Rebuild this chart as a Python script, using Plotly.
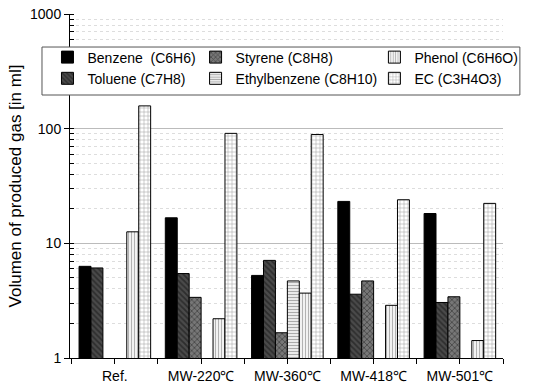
import plotly.graph_objects as go

categories = ["Ref.", "MW-220℃", "MW-360℃", "MW-418℃", "MW-501℃"]
benzene = [6.3, 16.7, 5.25, 23.2, 18.2]
toluene = [6.1, 5.45, 7.1, 3.6, 3.05]
styrene = [None, 3.38, 1.66, 4.7, 3.42]
ethylbenzene = [None, None, 4.7, None, None]
phenol = [12.6, 2.2, 3.68, 2.88, 1.42]
ec = [158, 91, 89, 24, 22.3]

series = [
    ("Benzene  (C6H6)", benzene, dict(color="black"), "legend"),
    ("Toluene (C7H8)", toluene, dict(color="#444", pattern=dict(shape="\\", bgcolor="#4a4a4a", fgcolor="#111", size=4, solidity=0.45)), "legend"),
    ("Styrene (C8H8)", styrene, dict(color="#666", pattern=dict(shape="x", bgcolor="#777", fgcolor="#1a1a1a", size=4, solidity=0.4)), "legend2"),
    ("Ethylbenzene (C8H10)", ethylbenzene, dict(color="white", pattern=dict(shape="-", bgcolor="white", fgcolor="#555", size=3, solidity=0.5)), "legend2"),
    ("Phenol (C6H6O)", phenol, dict(color="white", pattern=dict(shape="|", bgcolor="white", fgcolor="#666", size=3, solidity=0.45)), "legend3"),
    ("EC (C3H4O3)", ec, dict(color="white", pattern=dict(shape="+", bgcolor="white", fgcolor="#444", size=4, solidity=0.25)), "legend3"),
]

x = list(range(len(categories)))
fig = go.Figure()
for name, vals, marker, lg in series:
    m = dict(marker)
    m["line"] = dict(color="black", width=1)
    fig.add_trace(go.Bar(x=x, y=vals, name=name, marker=m, legend=lg))

ff = "Liberation Sans, Arial, sans-serif"
font = dict(family=ff, size=14, color="black")
lfont = dict(family=ff, size=14, color="black")
ly = 0.92
fig.update_layout(
    width=550, height=385,
    margin=dict(l=70, r=47, t=14, b=27, autoexpand=False),
    paper_bgcolor="white", plot_bgcolor="white",
    barmode="group", bargap=0.17, bargroupgap=0,
    font=font,
    xaxis=dict(
        range=[-0.52, 4.5], tickvals=x, ticktext=categories,
        showline=True, linecolor="black", linewidth=1,
        ticks="outside", ticklen=5, tickcolor="black",
        showgrid=False, zeroline=False, automargin=False,
        minor=dict(tick0=0.5, dtick=1, ticks="outside", ticklen=5, tickcolor="black", showgrid=False),
        tickfont=dict(family=ff, size=14),
    ),
    yaxis=dict(
        type="log", range=[0, 3],
        tickvals=[1, 10, 100, 1000], ticktext=["1", "10", "100", "1000"],
        showline=True, linecolor="black", linewidth=1,
        ticks="outside", ticklen=5, tickcolor="black",
        showgrid=True, gridcolor="#bbbbbb", gridwidth=1,
        zeroline=False, automargin=False,
        minor=dict(dtick="D1", ticks="inside", ticklen=4, tickcolor="black",
                   showgrid=True, gridcolor="#dddddd", griddash="dot", gridwidth=1),
        title=dict(text="Volumen of produced gas [in ml]", font=dict(family=ff, size=17), standoff=4),
        tickfont=dict(family=ff, size=14),
    ),
    legend=dict(x=-0.052, y=ly, xanchor="left", yanchor="top", bgcolor="rgba(0,0,0,0)", font=lfont, tracegroupgap=0),
    legend2=dict(x=0.29, y=ly, xanchor="left", yanchor="top", bgcolor="rgba(0,0,0,0)", font=lfont, tracegroupgap=0),
    legend3=dict(x=0.703, y=ly, xanchor="left", yanchor="top", bgcolor="rgba(0,0,0,0)", font=lfont, tracegroupgap=0),
    shapes=[dict(type="rect", xref="paper", yref="paper", x0=-0.0647, x1=1.039, y0=0.7645, y1=0.904,
                 line=dict(color="#555", width=1), fillcolor="white", layer="above")],
)
fig.write_html("out.html", config={"displayModeBar": False},
               post_script="document.body.style.margin='0';")
